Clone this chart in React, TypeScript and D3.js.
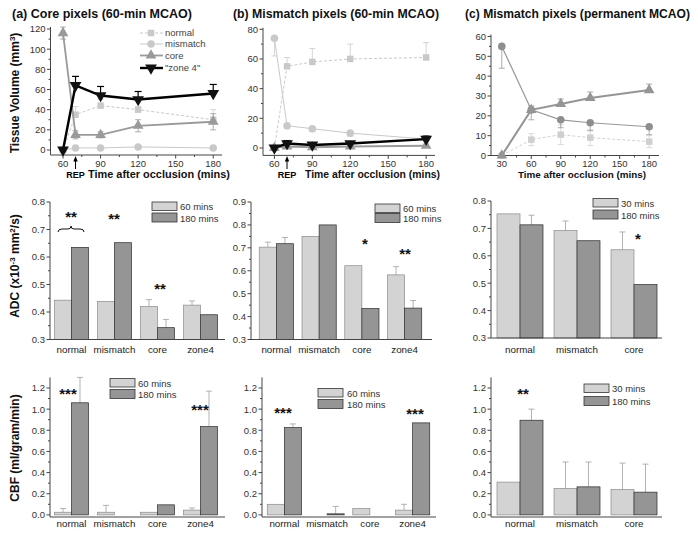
import React from 'react';
import * as d3 from 'd3';

const FONT = "'Liberation Sans', Arial, Helvetica, sans-serif";

// time points (mins after occlusion)
const timesReperf = [60, 70, 90, 120, 180];
const timesPerm = [30, 60, 90, 120, 180];
const timeTicksReperf = [60, 90, 120, 150, 180];
const timeTicksPerm = [30, 60, 90, 120, 150, 180];

// (a) core pixels, tissue volume (mm3)
const aNormal = [0, 35, 44, 40, 30];
const aNormalErr = [0, 8, 6, 3, 10];
const aMismatch = [0, 2, 2, 3, 2];
const aMismatchErr = [0, 1, 1, 1, 1];
const aCore = [116, 15, 15, 24, 28];
const aCoreErr = [6, 4, 3, 6, 8];
const aZone4 = [0, 64, 54, 50, 56];
const aZone4Err = [0, 9, 9, 8, 9];

// (b) mismatch pixels, 60-min MCAO
const bNormal = [0, 55, 58, 60, 61];
const bNormalErr = [0, 6, 9, 10, 10];
const bMismatch = [74, 15, 13, 10, 6];
const bMismatchErr = [12, 2, 2, 2, 1];
const bCore = [0, 1, 0.5, 1, 1.5];
const bCoreErr = [0, 1, 1, 1, 1];
const bZone4 = [0, 3, 2, 3, 6];
const bZone4Err = [0, 2, 1, 1, 2];

// (c) mismatch pixels, permanent MCAO
const cNormal = [0, 8, 10.5, 9, 7];
const cNormalErr = [0, 3, 5, 4, 3];
const cMismatch = [55, 23, 18, 16.5, 14.5];
const cMismatchErr = [11, 5, 4, 4, 4];
const cCore = [0, 23, 26, 29, 33];
const cCoreErr = [0, 2, 2.5, 3, 3];

// bar charts
const regions4 = ['normal', 'mismatch', 'core', 'zone4'];
const regions3 = ['normal', 'mismatch', 'core'];
const legendReperf = ['60 mins', '180 mins'];
const legendPerm = ['30 mins', '180 mins'];

const adcA60 = [0.443, 0.438, 0.42, 0.425];
const adcA60Err = [0, 0, 0.025, 0.015];
const adcA180 = [0.635, 0.652, 0.343, 0.39];
const adcA180Err = [0, 0, 0.03, 0];

const adcB60 = [0.703, 0.75, 0.622, 0.582];
const adcB60Err = [0.022, 0, 0, 0.036];
const adcB180 = [0.718, 0.8, 0.435, 0.437];
const adcB180Err = [0.027, 0, 0, 0.033];

const adcC30 = [0.753, 0.692, 0.622];
const adcC30Err = [0, 0.035, 0.065];
const adcC180 = [0.713, 0.655, 0.495];
const adcC180Err = [0.035, 0, 0];

const cbfA60 = [0.025, 0.025, 0.025, 0.045];
const cbfA60Err = [0.035, 0.065, 0, 0.02];
const cbfA180 = [1.06, 0, 0.095, 0.835];
const cbfA180Err = [0.24, 0, 0, 0.335];

const cbfB60 = [0.1, 0, 0.06, 0.045];
const cbfB60Err = [0, 0, 0, 0.055];
const cbfB180 = [0.825, 0.01, 0, 0.87];
const cbfB180Err = [0.035, 0.07, 0, 0];

const cbfC30 = [0.31, 0.25, 0.24];
const cbfC30Err = [0, 0.25, 0.25];
const cbfC180 = [0.895, 0.265, 0.215];
const cbfC180Err = [0.105, 0.235, 0.265];

const LIGHT = '#d3d3d3';
const DARK = '#959595';
const AXIS = '#444';

type Sym = 'square' | 'circle' | 'tri' | 'triDown';
interface Series {
  values: number[];
  err: number[];
  dir: 'up' | 'down' | 'both';
  color: string;
  mark: string;
  width: number;
  dash?: string;
  sym: Sym;
  size: number;
}

const symPath = (s: Sym, size: number) =>
  d3.symbol()
    .type(s === 'square' ? d3.symbolSquare : s === 'circle' ? d3.symbolCircle : d3.symbolTriangle)
    .size(size)() as string;

const Marker = ({ s, size, fill, cx, cy }: { s: Sym; size: number; fill: string; cx: number; cy: number }) => (
  <path d={symPath(s, size)} fill={fill}
    transform={`translate(${cx},${cy})${s === 'triDown' ? ' rotate(180)' : ''}`} />
);

function YAxis({ y, x0, ticks, minor, fmt }: any) {
  const [b, t] = y.range();
  return (
    <g>
      <line x1={x0} x2={x0} y1={b} y2={t} stroke={AXIS} />
      {minor.map((v: number) => (
        <line key={'m' + v} x1={x0 - 2} x2={x0} y1={y(v)} y2={y(v)} stroke={AXIS} />
      ))}
      {ticks.map((v: number) => (
        <g key={v}>
          <line x1={x0 - 3.5} x2={x0} y1={y(v)} y2={y(v)} stroke={AXIS} />
          <text x={x0 - 5} y={y(v)} dy="0.36em" textAnchor="end" fontSize={9.5} fill="#333">{fmt(v)}</text>
        </g>
      ))}
    </g>
  );
}

function LineChart({ times, series, x, y, xTicks, yTicks, labelDy }: any) {
  const [xa, xb] = x.range();
  const yb = y.range()[0];
  const step = xTicks[1] - xTicks[0];
  const minorX = xTicks.slice(0, -1).map((t: number) => t + step / 2);
  const ys = yTicks[1] - yTicks[0];
  const minorY = yTicks.slice(0, -1).map((t: number) => t + ys / 2);
  return (
    <g>
      <YAxis y={y} x0={xa} ticks={yTicks} minor={minorY} fmt={d3.format('d')} />
      <line x1={xa} x2={xb} y1={yb} y2={yb} stroke={AXIS} />
      {minorX.map((t: number) => (
        <line key={'mx' + t} x1={x(t)} x2={x(t)} y1={yb} y2={yb + 2} stroke={AXIS} />
      ))}
      {xTicks.map((t: number) => (
        <g key={t}>
          <line x1={x(t)} x2={x(t)} y1={yb} y2={yb + 3.5} stroke={AXIS} />
          <text x={x(t)} y={yb + labelDy} textAnchor="middle" fontSize={9.5} fill="#333">{t}</text>
        </g>
      ))}
      {series.map((s: Series, k: number) => {
        const line = d3.line<number>().x((_, i) => x(times[i])).y(v => y(v));
        const cap = s.color === '#000' ? 3.5 : 3;
        return (
          <g key={k}>
            {s.values.map((v, i) => {
              const e = s.err[i];
              if (!e) return null;
              const tops = s.dir === 'up' ? [v + e] : s.dir === 'down' ? [v - e] : [v + e, v - e];
              return tops.map((tv, j) => (
                <g key={i + '-' + j} stroke={s.color} strokeWidth={s.color === '#000' ? 1.2 : 0.8}>
                  <line x1={x(times[i])} x2={x(times[i])} y1={y(v)} y2={y(tv)} />
                  <line x1={x(times[i]) - cap} x2={x(times[i]) + cap} y1={y(tv)} y2={y(tv)} />
                </g>
              ));
            })}
            <path d={line(s.values) as string} fill="none" stroke={s.color} strokeWidth={s.width}
              strokeDasharray={s.dash} />
            {s.values.map((v, i) => (
              <Marker key={i} s={s.sym} size={s.size} fill={s.mark} cx={x(times[i])} cy={y(v)} />
            ))}
          </g>
        );
      })}
    </g>
  );
}

function BarChart({ groups, v1, e1, v2, e2, x, y, x0, xEnd, base, yTicks, minor, labelY }: any) {
  const sub = d3.scaleBand().domain(['a', 'b']).range([0, x.bandwidth()]);
  const yb = y.range()[0];
  const bar = (g: string, v: number, e: number, key: string, fill: string, stroke: string) => {
    if (!v) return null;
    const bx = (x(g) as number) + (sub(key) as number);
    const w = sub.bandwidth();
    return (
      <g key={g + key}>
        {e ? (
          <g stroke="#a0a0a0" strokeWidth={0.8}>
            <line x1={bx + w / 2} x2={bx + w / 2} y1={y(v)} y2={y(v + e)} />
            <line x1={bx + w / 2 - 3} x2={bx + w / 2 + 3} y1={y(v + e)} y2={y(v + e)} />
          </g>
        ) : null}
        <rect x={bx} y={y(v)} width={w} height={y(base) - y(v)} fill={fill} stroke={stroke} strokeWidth={0.7} />
      </g>
    );
  };
  return (
    <g>
      {groups.map((g: string, i: number) => bar(g, v1[i], e1[i], 'a', LIGHT, '#8a8a8a'))}
      {groups.map((g: string, i: number) => bar(g, v2[i], e2[i], 'b', DARK, '#2a2a2a'))}
      <YAxis y={y} x0={x0} ticks={yTicks} minor={minor} fmt={d3.format('.1f')} />
      <line x1={x0} x2={xEnd} y1={yb} y2={yb} stroke={AXIS} />
      {groups.map((g: string) => (
        <text key={g} x={(x(g) as number) + x.bandwidth() / 2} y={labelY} textAnchor="middle" fontSize={9.8} fill="#222">{g}</text>
      ))}
    </g>
  );
}

function BarLegend({ x, y1, y2, tx, labels }: any) {
  return (
    <g fontSize={9.5} fill="#333">
      <rect x={x} y={y1} width={25} height={8.5} fill={LIGHT} stroke="#333" strokeWidth={0.8} />
      <rect x={x} y={y2} width={25} height={9} fill={DARK} stroke="#333" strokeWidth={0.8} />
      <text x={tx} y={y1 + 8}>{labels[0]}</text>
      <text x={tx} y={y2 + 8.5}>{labels[1]}</text>
    </g>
  );
}

const Stars = ({ x, y, n }: { x: number; y: number; n: number }) => (
  <text x={x} y={y + 6} textAnchor="middle" fontSize={15} fontWeight="bold" fill="#111">{'*'.repeat(n)}</text>
);

const Rep = ({ x }: { x: number }) => (
  <g>
    <line x1={x} x2={x} y1={169} y2={160} stroke="#000" strokeWidth={1} />
    <path d={`M${x - 2.2},${161.5} L${x},${156} L${x + 2.2},${161.5} Z`} fill="#000" />
    <text x={x} y={178} textAnchor="middle" fontSize={9} fontWeight="bold">REP</text>
  </g>
);

export default function App() {
  const tx = (d: number[], r: number[]) => d3.scaleLinear().domain(d).range(r);

  const xA = tx([50, 187], [50.5, 222]);
  const yA = tx([-5, 122], [155, 27]);
  const xB = tx([51, 187], [263, 435]);
  const yB = tx([-5, 81], [155.4, 27.8]);
  const xC = tx([19, 190], [491, 659]);
  const yC = tx([0, 61], [155.5, 34.5]);

  const light = '#c9c9c9';
  const mid = '#9a9a9a';
  const seriesA: Series[] = [
    { values: aNormal, err: aNormalErr, dir: 'up', color: light, mark: light, width: 1, dash: '3,2', sym: 'square', size: 42 },
    { values: aMismatch, err: aMismatchErr, dir: 'up', color: light, mark: light, width: 1, sym: 'circle', size: 45 },
    { values: aCore, err: aCoreErr, dir: 'both', color: mid, mark: mid, width: 1.8, sym: 'tri', size: 50 },
    { values: aZone4, err: aZone4Err, dir: 'up', color: '#000', mark: '#111', width: 2.4, sym: 'triDown', size: 60 },
  ];
  const seriesB: Series[] = [
    { values: bNormal, err: bNormalErr, dir: 'up', color: light, mark: light, width: 1, dash: '3,2', sym: 'square', size: 42 },
    { values: bMismatch, err: bMismatchErr, dir: 'down', color: light, mark: light, width: 1, sym: 'circle', size: 45 },
    { values: bCore, err: bCoreErr, dir: 'up', color: mid, mark: mid, width: 1.8, sym: 'tri', size: 50 },
    { values: bZone4, err: bZone4Err, dir: 'up', color: '#000', mark: '#111', width: 2.4, sym: 'triDown', size: 60 },
  ];
  const seriesC: Series[] = [
    { values: cNormal, err: cNormalErr, dir: 'both', color: '#d2d2d2', mark: '#cfcfcf', width: 1, dash: '3,2', sym: 'square', size: 42 },
    { values: cMismatch, err: cMismatchErr, dir: 'down', color: '#999', mark: '#8e8e8e', width: 1.2, sym: 'circle', size: 45 },
    { values: cCore, err: cCoreErr, dir: 'up', color: '#959595', mark: '#959595', width: 2, sym: 'tri', size: 50 },
  ];

  const band = (groups: string[], r: number[], p: number) =>
    d3.scaleBand().domain(groups).range(r as [number, number]).paddingInner(p).paddingOuter(p / 2);

  const adcTicks = [0.3, 0.4, 0.5, 0.6, 0.7, 0.8];
  const adcMinor = [0.35, 0.45, 0.55, 0.65, 0.75];
  const adcTicksB = [0.3, 0.4, 0.5, 0.6, 0.7, 0.8, 0.9];
  const adcMinorB = [0.35, 0.45, 0.55, 0.65, 0.75, 0.85];
  const cbfTicks = [0, 0.2, 0.4, 0.6, 0.8, 1.0, 1.2];
  const cbfMinor = [0.1, 0.3, 0.5, 0.7, 0.9, 1.1];

  const cbfY = tx([-0.02, 1.3], [517, 377.4]);

  return (
    <svg width={698} height={533} style={{ position: 'absolute', left: 0, top: 0, background: '#fff' }}
      fontFamily={FONT}>
      <rect width={698} height={533} fill="#fff" />

      {/* titles */}
      <g fontSize={12.5} fontWeight="bold" fill="#111">
        <text x={12} y={18} textLength={180} lengthAdjust="spacingAndGlyphs">(a) Core pixels (60-min MCAO)</text>
        <text x={233} y={18} textLength={206} lengthAdjust="spacingAndGlyphs">(b) Mismatch pixels (60-min MCAO)</text>
        <text x={465} y={18} textLength={225} lengthAdjust="spacingAndGlyphs">(c) Mismatch pixels (permanent MCAO)</text>
      </g>

      {/* y titles */}
      <g fontSize={12} fontWeight="bold" fill="#111" textAnchor="middle">
        <text transform="translate(19,93) rotate(-90)">Tissue Volume (mm<tspan dy={-4} fontSize={8}>3</tspan><tspan dy={4}>)</tspan></text>
        <text transform="translate(19,266) rotate(-90)">ADC (x10<tspan dy={-4} fontSize={8}>-3</tspan><tspan dy={4}> mm</tspan><tspan dy={-4} fontSize={8}>2</tspan><tspan dy={4}>/s)</tspan></text>
        <text transform="translate(19,448) rotate(-90)">CBF (ml/gram/min)</text>
      </g>

      {/* row 1: tissue volume */}
      <LineChart times={timesReperf} series={seriesA} x={xA} y={yA} xTicks={timeTicksReperf} yTicks={[0, 20, 40, 60, 80, 100, 120]} labelDy={11.5} />
      <LineChart times={timesReperf} series={seriesB} x={xB} y={yB} xTicks={timeTicksReperf} yTicks={[0, 20, 40, 60, 80]} labelDy={11.2} />
      <LineChart times={timesPerm} series={seriesC} x={xC} y={yC} xTicks={timeTicksPerm} yTicks={[0, 10, 20, 30, 40, 50, 60]} labelDy={11} />

      <g fontWeight="bold" fill="#111">
        <text x={88} y={178} fontSize={10} textLength={142} lengthAdjust="spacingAndGlyphs">Time after occlusion (mins)</text>
        <text x={305} y={178} fontSize={10} textLength={135} lengthAdjust="spacingAndGlyphs">Time after occlusion (mins)</text>
        <text x={518} y={177.5} fontSize={9.2} textLength={128} lengthAdjust="spacingAndGlyphs">Time after occlusion (mins)</text>
      </g>
      <Rep x={xA(70)} />
      <Rep x={xB(70)} />

      {/* legend (a) */}
      <g fontSize={9.5} fill="#444">
        {seriesA.map((s, i) => {
          const ly = [33, 44, 55.5, 68][i];
          return (
            <g key={i}>
              <line x1={140} x2={163} y1={ly} y2={ly} stroke={s.color} strokeWidth={s.width} strokeDasharray={s.dash} />
              <Marker s={s.sym} size={s.size} fill={s.mark} cx={151} cy={ly} />
              <text x={165} y={ly} dy="0.35em">{['normal', 'mismatch', 'core', '"zone 4"'][i]}</text>
            </g>
          );
        })}
      </g>

      {/* row 2: ADC */}
      <BarChart groups={regions4} v1={adcA60} e1={adcA60Err} v2={adcA180} e2={adcA180Err}
        x={band(regions4, [50, 222], 0.21)} y={tx([0.3, 0.8], [339.5, 202])} x0={50} xEnd={225} base={0.3}
        yTicks={adcTicks} minor={adcMinor} labelY={353} />
      <BarChart groups={regions4} v1={adcB60} e1={adcB60Err} v2={adcB180} e2={adcB180Err}
        x={band(regions4, [255, 426], 0.2)} y={tx([0.3, 0.9], [339.5, 202])} x0={251} xEnd={432} base={0.3}
        yTicks={adcTicksB} minor={adcMinorB} labelY={353} />
      <BarChart groups={regions3} v1={adcC30} e1={adcC30Err} v2={adcC180} e2={adcC180Err}
        x={band(regions3, [491.5, 662.5], 0.193)} y={tx([0.3, 0.8], [338, 201])} x0={491} xEnd={662} base={0.3}
        yTicks={adcTicks} minor={adcMinor} labelY={353} />

      <BarLegend x={152} y1={202} y2={213} tx={180} labels={legendReperf} />
      <BarLegend x={375} y1={204} y2={213.5} tx={403} labels={legendReperf} />
      <BarLegend x={593} y1={198.5} y2={210} tx={621} labels={legendPerm} />

      <path d="M58,232 Q58,229 62,229 L68,229 Q71,229 71,226 Q71,229 74,229 L80,229 Q84,229 84,232"
        fill="none" stroke="#111" strokeWidth={1} />
      <Stars x={71} y={216} n={2} />
      <Stars x={114} y={218} n={2} />
      <Stars x={160} y={288} n={2} />
      <Stars x={365} y={243} n={1} />
      <Stars x={405} y={253} n={2} />
      <Stars x={638} y={238} n={1} />

      {/* row 3: CBF */}
      <BarChart groups={regions4} v1={cbfA60} e1={cbfA60Err} v2={cbfA180} e2={cbfA180Err}
        x={band(regions4, [50, 222], 0.21)} y={cbfY} x0={50} xEnd={225} base={0}
        yTicks={cbfTicks} minor={cbfMinor} labelY={527} />
      <BarChart groups={regions4} v1={cbfB60} e1={cbfB60Err} v2={cbfB180} e2={cbfB180Err}
        x={band(regions4, [263, 434], 0.2)} y={cbfY} x0={262} xEnd={436} base={0}
        yTicks={cbfTicks} minor={cbfMinor} labelY={527} />
      <BarChart groups={regions3} v1={cbfC30} e1={cbfC30Err} v2={cbfC180} e2={cbfC180Err}
        x={band(regions3, [491.5, 662.5], 0.193)} y={cbfY} x0={491} xEnd={662} base={0}
        yTicks={cbfTicks} minor={cbfMinor} labelY={527} />

      <BarLegend x={110} y1={378.5} y2={389.5} tx={138} labels={legendReperf} />
      <BarLegend x={318} y1={388.5} y2={399.5} tx={347} labels={legendReperf} />
      <BarLegend x={584} y1={384} y2={396.5} tx={612} labels={legendPerm} />

      <Stars x={68} y={393} n={3} />
      <Stars x={200} y={409} n={3} />
      <Stars x={283} y={412} n={3} />
      <Stars x={415} y={413} n={3} />
      <Stars x={523} y={393} n={2} />
    </svg>
  );
}
